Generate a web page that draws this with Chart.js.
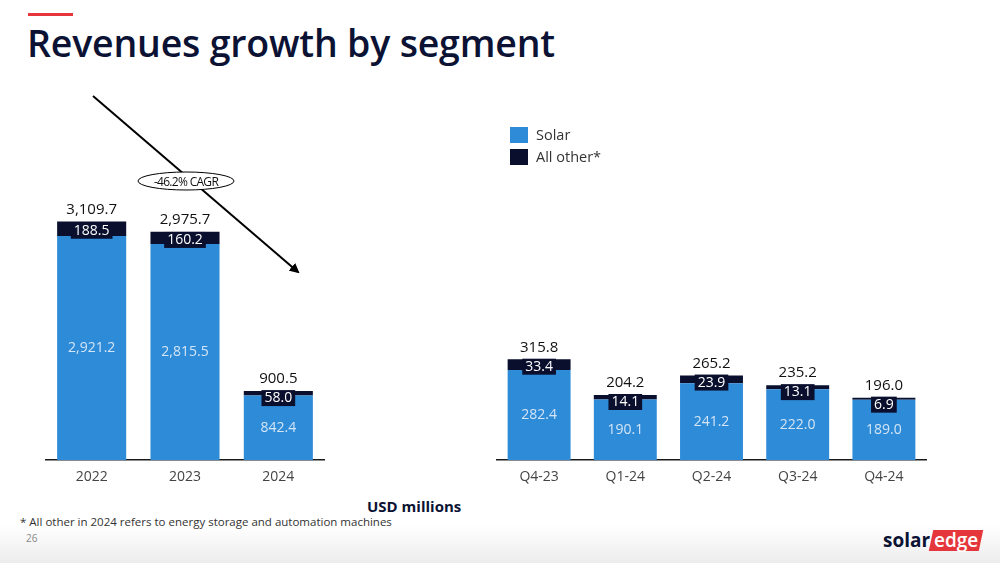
<!DOCTYPE html>
<html>
<head>
<meta charset="utf-8">
<script src="https://cdn.jsdelivr.net/npm/chart.js@4"></script>
<style>
  html, body { margin: 0; padding: 0; }
  body {
    width: 1000px; height: 563px; position: relative; overflow: hidden;
    font-family: "Open Sans", sans-serif;
    background: linear-gradient(to bottom, #fff 0px, #fff 525px, #ececec 563px);
  }
  .abs { position: absolute; }
  #redbar { left: 28px; top: 13px; width: 45px; height: 3px; background: #e5373b; }
  #title { left: 27px; top: 17px; font-size: 37.5px; font-weight: 600; color: #0b1233; letter-spacing: -0.2px; white-space: nowrap; }
  .leg { left: 510px; font-size: 14.5px; color: #333; display: flex; align-items: center; }
  .leg span.sw { width: 18px; height: 16px; margin-right: 8px; display: inline-block; }
  #usd { left: 367px; top: 496px; font-size: 15px; font-weight: 700; color: #0b1233; }
  #foot { left: 20px; top: 514px; font-size: 11.5px; color: #333; }
  #page { left: 26px; top: 531px; font-size: 10px; color: #888; }
  #logo { left: 883px; top: 527px; font-size: 19px; font-weight: 700; color: #0b1233; display: flex; align-items: center; }
  #logo .edge { display: inline-block; background: #e5373b; color: #fff; transform: skewX(-12deg); padding: 0 3px; margin-left: 1px; font-weight: 600; line-height: 21px; }
  #logo .edge span { display: inline-block; transform: skewX(12deg); }
</style>
</head>
<body>
<div id="redbar" class="abs"></div>
<div id="title" class="abs">Revenues growth by segment</div>

<div class="abs" style="left:45px; top:93px; width:280px; height:392px;">
  <canvas id="chartYear" width="280" height="392"></canvas>
</div>
<div class="abs" style="left:496px; top:93px; width:431px; height:392px;">
  <canvas id="chartQuarter" width="431" height="392"></canvas>
</div>

<svg class="abs" style="left:0; top:0;" width="400" height="300">
  <defs>
    <marker id="head" markerWidth="10" markerHeight="10" refX="8" refY="5" orient="auto" markerUnits="userSpaceOnUse">
      <path d="M0,0 L10,5 L0,10 z" fill="#000"/>
    </marker>
  </defs>
  <line x1="93" y1="96" x2="298" y2="272" stroke="#000" stroke-width="2" marker-end="url(#head)"/>
  <ellipse cx="186" cy="181" rx="48" ry="9" fill="#fff" stroke="#000" stroke-width="1"/>
  <text x="186" y="185.5" text-anchor="middle" font-family="Open Sans" font-size="12" fill="#111" letter-spacing="-0.7">-46.2% CAGR</text>
</svg>

<div class="abs leg" style="top:125px;"><span class="sw" style="background:#2e8bd8"></span>Solar</div>
<div class="abs leg" style="top:147px;"><span class="sw" style="background:#0a0f2e"></span>All other*</div>

<div id="usd" class="abs">USD millions</div>
<div id="foot" class="abs">* All other in 2024 refers to energy storage and automation machines</div>
<div id="page" class="abs">26</div>
<div id="logo" class="abs">solar<span class="edge"><span>edge</span></span></div>

<script>
// annual data
const years = ["2022", "2023", "2024"];
const yearSolar = [2921.2, 2815.5, 842.4];
const yearOther = [188.5, 160.2, 58.0];
const yearTotal = [3109.7, 2975.7, 900.5];

// quarterly data
const quarters = ["Q4-23", "Q1-24", "Q2-24", "Q3-24", "Q4-24"];
const qSolar = [282.4, 190.1, 241.2, 222.0, 189.0];
const qOther = [33.4, 14.1, 23.9, 13.1, 6.9];
const qTotal = [315.8, 204.2, 265.2, 235.2, 196.0];

const SOLAR = "#2e8bd8";
const OTHER = "#0a0f2e";
const FONT = "Open Sans";

function fmt(v) {
  return v.toLocaleString("en-US", { minimumFractionDigits: 1, maximumFractionDigits: 1 });
}

// draws value labels inside / above the stacked bars
const valueLabels = {
  id: "valueLabels",
  afterDatasetsDraw(chart, args, opts) {
    const ctx = chart.ctx;
    const solarMeta = chart.getDatasetMeta(0);
    const otherMeta = chart.getDatasetMeta(1);
    ctx.save();
    ctx.textAlign = "center";
    ctx.textBaseline = "middle";

    solarMeta.data.forEach((bar, i) => {
      ctx.font = "14px '" + FONT + "'";
      ctx.fillStyle = "#d4e5f6";
      ctx.fillText(fmt(chart.data.datasets[0].data[i]), bar.x, (bar.y + bar.base) / 2);
    });

    otherMeta.data.forEach((bar, i) => {
      const txt = fmt(chart.data.datasets[1].data[i]);
      ctx.font = "14px '" + FONT + "'";
      const w = ctx.measureText(txt).width + 6;
      const cy = Math.max((bar.y + bar.base) / 2 + 2, bar.y + 7);
      ctx.fillStyle = OTHER;
      ctx.fillRect(bar.x - w / 2, cy - 8, w, 16);
      ctx.fillStyle = "#ffffff";
      ctx.fillText(txt, bar.x, cy);

      ctx.font = "15px '" + FONT + "'";
      ctx.fillStyle = "#111111";
      ctx.fillText(fmt(opts.totals[i]), bar.x, bar.y - 12);
    });
    ctx.restore();
  },
};

function makeChart(id, labels, solar, other, totals, yMax, barPct) {
  return new Chart(document.getElementById(id), {
    type: "bar",
    data: {
      labels: labels,
      datasets: [
        { label: "Solar", data: solar, backgroundColor: SOLAR, barPercentage: barPct, categoryPercentage: 1 },
        { label: "All other*", data: other, backgroundColor: OTHER, barPercentage: barPct, categoryPercentage: 1 },
      ],
    },
    options: {
      responsive: false,
      animation: false,
      layout: { padding: 0 },
      plugins: {
        legend: { display: false },
        tooltip: { enabled: false },
        valueLabels: { totals: totals },
      },
      scales: {
        x: {
          stacked: true,
          grid: { display: false },
          border: { display: true, color: "#1a1a1a", width: 1.5 },
          ticks: { color: "#444", font: { family: FONT, size: 14 }, padding: 0 },
        },
        y: { stacked: true, display: false, min: 0, max: yMax },
      },
    },
    plugins: [valueLabels],
  });
}

makeChart("chartYear", years, yearSolar, yearOther, yearTotal, 4784, 0.74);
makeChart("chartQuarter", quarters, qSolar, qOther, qTotal, 1150, 0.73);
</script>
</body>
</html>
